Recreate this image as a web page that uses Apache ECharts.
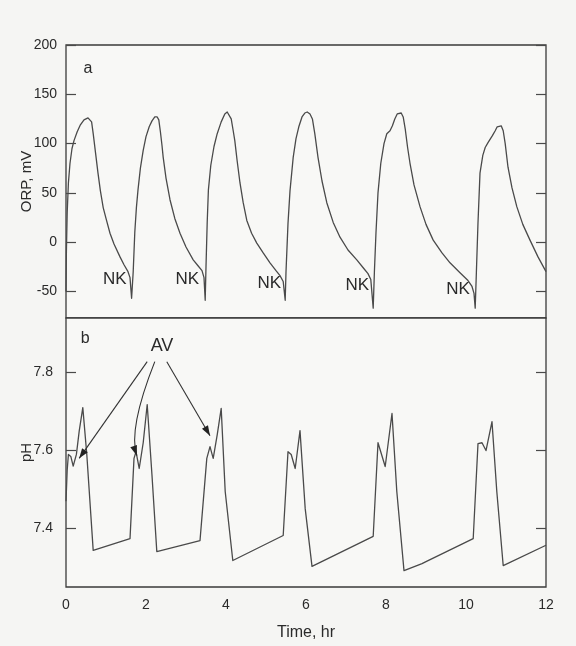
<!DOCTYPE html>
<html>
<head>
<meta charset="utf-8">
<script src="https://cdn.jsdelivr.net/npm/echarts@6/dist/echarts.min.js"></script>
<style>
  html, body { margin: 0; padding: 0; background: #f5f5f3; }
  #main { width: 576px; height: 646px; }
</style>
</head>
<body>
<div id="main"></div>
<script>
// ORP trace (panel a), time in hr, value in mV
const orpTime = [0, 0.01, 0.03, 0.06, 0.1, 0.15, 0.2, 0.28, 0.36, 0.45, 0.55, 0.6, 0.64, 0.68, 0.74, 0.8, 0.86, 0.93, 1.0, 1.1, 1.2, 1.35, 1.45, 1.55, 1.6, 1.64,
  1.68, 1.72, 1.76, 1.8, 1.86, 1.93, 2.0, 2.08, 2.15, 2.22, 2.28, 2.32, 2.36, 2.4, 2.43, 2.5, 2.6, 2.72, 2.85, 3.0, 3.18, 3.3, 3.4, 3.45, 3.48,
  3.5, 3.53, 3.56, 3.62, 3.7, 3.78, 3.88, 3.97, 4.03, 4.08, 4.13, 4.18, 4.22, 4.28, 4.35, 4.43, 4.52, 4.64, 4.77, 4.93, 5.1, 5.25, 5.35, 5.43, 5.48,
  5.5, 5.55, 5.6, 5.68, 5.75, 5.82, 5.9, 5.97, 6.03, 6.1, 6.16, 6.22, 6.3, 6.4, 6.52, 6.68, 6.85, 7.05, 7.27, 7.45, 7.55, 7.62, 7.68,
  7.71, 7.75, 7.8, 7.87, 7.95, 8.02, 8.1, 8.16, 8.22, 8.28, 8.33, 8.38, 8.43, 8.48, 8.54, 8.6, 8.7, 8.85, 9.0, 9.18, 9.4, 9.6, 9.85, 10.05, 10.15, 10.2, 10.23,
  10.26, 10.3, 10.35, 10.42, 10.48, 10.55, 10.6, 10.66, 10.73, 10.78, 10.83, 10.88, 10.93, 10.98, 11.05, 11.15, 11.27, 11.42, 11.6, 11.8, 12.0];
const orpValue = [-50, -10, 30, 60, 80, 95, 103, 112, 119, 124, 126, 125.5, 122, 110, 90, 70, 52, 35, 24, 9, -2, -15, -23, -30, -36, -57,
  -30, 10, 35, 53, 75, 93, 107, 117, 123, 127, 127, 124, 112, 98, 86, 65, 43, 24, 9, -5, -18, -24, -29, -36, -59,
  -25, 20, 53, 78, 97, 110, 122, 130, 132, 131, 125, 113, 103, 82, 60, 40, 22, 9, -1, -11, -21, -29, -34, -40, -59,
  -30, 19, 52, 86, 105, 117, 127, 131, 132, 130, 125, 110, 86, 62, 40, 20, 5, -8, -18, -27, -32, -38, -67,
  -30, 10, 50, 80, 100, 110, 113, 118, 125, 130, 132, 131, 127, 115, 96, 80, 58, 36, 18, 2, -11, -21, -31, -39, -45, -52, -67,
  -30, 20, 70, 88, 96, 101, 103, 108, 113, 117, 119, 118, 113, 100, 76, 55, 36, 18, 2, -15, -30];

// pH trace (panel b)
const phTime = [0, 0.03, 0.06, 0.12, 0.18, 0.26, 0.33, 0.42, 0.52, 0.68, 1.6, 1.7, 1.75, 1.83, 1.93, 2.03, 2.15, 2.27,
  3.35, 3.52, 3.6, 3.68, 3.78, 3.88, 3.98, 4.17, 5.43, 5.55, 5.63, 5.73, 5.85, 5.98, 6.15,
  7.68, 7.8, 7.98, 8.15, 8.27, 8.45, 8.9, 8.95, 9.0, 10.18, 10.3, 10.4, 10.5, 10.65, 10.77, 10.93, 12];
const phValue = [7.47, 7.55, 7.59, 7.585, 7.56, 7.59, 7.65, 7.71, 7.59, 7.344, 7.374, 7.58, 7.597, 7.554, 7.62, 7.718, 7.536, 7.341,
  7.369, 7.58, 7.61, 7.58, 7.64, 7.708, 7.495, 7.318, 7.382, 7.597, 7.59, 7.554, 7.651, 7.451, 7.303,
  7.38, 7.62, 7.559, 7.695, 7.495, 7.292, 7.31, 7.305, 7.315, 7.374, 7.618, 7.62, 7.6, 7.674, 7.495, 7.305, 7.357];

const orpTicks = [-50, 0, 50, 100, 150, 200];
const phTicks = [7.4, 7.6, 7.8];
const timeTicks = [0, 2, 4, 6, 8, 10, 12];

// annotations, in data units
const nkTime = [1.22, 3.03, 5.08, 7.28, 9.8];
const nkValue = [-38, -38, -42, -44, -48];
const avLabel = [2.4, 7.867];
const avFrom = [[2.03, 7.828], [2.22, 7.828], [2.52, 7.828]];
const avTo = [[0.33, 7.58], [1.77, 7.587], [3.6, 7.638]];
const avCtrl = [null, [1.55, 7.654], null];

const font = 'Liberation Sans, Arial, sans-serif';
const ink = '#2a2a2a';
const lineCol = '#4a4a4a';

const zip = (a, b) => a.map((v, i) => [v, b[i]]);

const chart = echarts.init(document.getElementById('main'));

const yBase = (min, max, ticks, fmt, showLabel, pos, grid, margin) => ({
  type: 'value', gridIndex: grid, position: pos, min: min, max: max,
  splitLine: { show: false },
  axisLine: { show: false },
  axisTick: { show: true, inside: true, length: 10, customValues: ticks, lineStyle: { color: lineCol, width: 1.2 } },
  axisLabel: { show: showLabel, customValues: ticks, formatter: fmt, margin: margin,
    fontFamily: font, fontSize: 14, color: ink }
});

chart.setOption({
  backgroundColor: '#f5f5f3',
  animation: false,
  grid: [
    { left: 66, right: 30, top: 45, height: 273, show: true, borderColor: '#3a3a3a', borderWidth: 1.3, backgroundColor: '#f8f8f6' },
    { left: 66, right: 30, top: 318, height: 269, show: true, borderColor: '#3a3a3a', borderWidth: 1.3, backgroundColor: '#f8f8f6' }
  ],
  xAxis: [
    { type: 'value', gridIndex: 0, min: 0, max: 12, show: false },
    {
      type: 'value', gridIndex: 1, min: 0, max: 12, interval: 2,
      name: 'Time, hr', nameLocation: 'middle', nameGap: 38, nameMoveOverlap: false,
      nameTextStyle: { fontFamily: font, fontSize: 16, color: ink },
      splitLine: { show: false }, axisLine: { show: false }, axisTick: { show: false },
      axisLabel: { customValues: timeTicks, margin: 11, fontFamily: font, fontSize: 14, color: ink }
    }
  ],
  yAxis: [
    Object.assign(yBase(-77, 200, orpTicks, v => String(v), true, 'left', 0, 9), {
      name: 'ORP, mV', nameLocation: 'middle', nameGap: 32, nameRotate: 90, nameMoveOverlap: false,
      nameTextStyle: { fontFamily: font, fontSize: 15, color: ink }
    }),
    yBase(-77, 200, orpTicks, v => String(v), false, 'right', 0, 8),
    Object.assign(yBase(7.25, 7.94, phTicks, v => v.toFixed(1), true, 'left', 1, 13), {
      name: 'pH', nameLocation: 'middle', nameGap: 32, nameRotate: 90, nameMoveOverlap: false,
      nameTextStyle: { fontFamily: font, fontSize: 15, color: ink }
    }),
    yBase(7.25, 7.94, phTicks, v => v.toFixed(1), false, 'right', 1, 8)
  ],
  series: [
    {
      type: 'line', xAxisIndex: 0, yAxisIndex: 0, data: zip(orpTime, orpValue),
      showSymbol: false, smooth: false,
      lineStyle: { color: lineCol, width: 1.3, join: 'round' }
    },
    {
      type: 'line', xAxisIndex: 1, yAxisIndex: 2, data: zip(phTime, phValue),
      showSymbol: false, smooth: false,
      lineStyle: { color: lineCol, width: 1.3, join: 'round' }
    }
  ]
});

const toA = p => chart.convertToPixel({ xAxisIndex: 0, yAxisIndex: 0 }, p);
const toB = p => chart.convertToPixel({ xAxisIndex: 1, yAxisIndex: 2 }, p);

const graphics = [];
const addText = (p, text, size) => graphics.push({
  type: 'text', x: p[0], y: p[1], silent: true, z: 10,
  style: { text: text, fontFamily: font, fontSize: size, fill: ink, align: 'center', verticalAlign: 'middle' }
});

nkTime.forEach((t, i) => addText(toA([t, nkValue[i]]), 'NK', 17));
addText(toA([0.55, 176]), 'a', 16);
addText(toB([0.48, 7.887]), 'b', 16);
addText(toB(avLabel), 'AV', 18);

// AV arrows: shaft plus filled head
avFrom.forEach((f, i) => {
  const p0 = toB(f), p2 = toB(avTo[i]);
  let dir;
  if (avCtrl[i]) {
    const c = toB(avCtrl[i]);
    graphics.push({ type: 'bezierCurve', silent: true, z: 10,
      shape: { x1: p0[0], y1: p0[1], cpx1: c[0], cpy1: c[1], x2: p2[0], y2: p2[1] },
      style: { stroke: '#333', lineWidth: 1.1, fill: null } });
    dir = [p2[0] - c[0], p2[1] - c[1]];
  } else {
    graphics.push({ type: 'line', silent: true, z: 10,
      shape: { x1: p0[0], y1: p0[1], x2: p2[0], y2: p2[1] },
      style: { stroke: '#333', lineWidth: 1.1 } });
    dir = [p2[0] - p0[0], p2[1] - p0[1]];
  }
  const len = Math.hypot(dir[0], dir[1]);
  const ux = dir[0] / len, uy = dir[1] / len;
  const L = 10, W = 3.5;
  const bx = p2[0] - ux * L, by = p2[1] - uy * L;
  graphics.push({ type: 'polygon', silent: true, z: 11,
    shape: { points: [[p2[0], p2[1]], [bx - uy * W, by + ux * W], [bx + uy * W, by - ux * W]] },
    style: { fill: '#222' } });
});

chart.setOption({ graphic: graphics });
</script>
</body>
</html>
